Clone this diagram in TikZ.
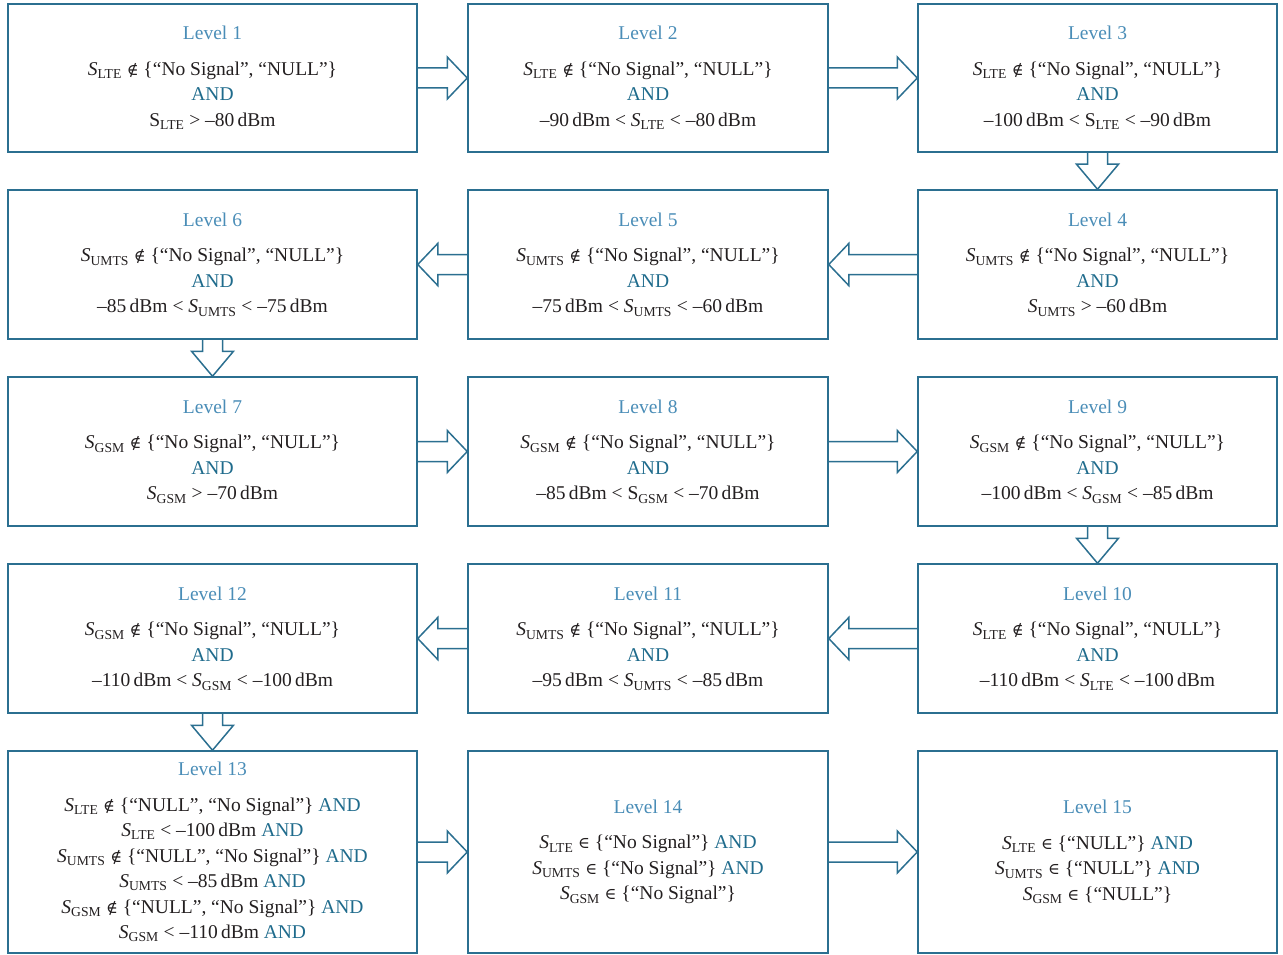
\documentclass[tikz,border=0pt]{standalone}
\usepackage{fontspec}
\setmainfont{Liberation Serif}
\newfontfamily\symfont{DejaVu Serif}
\usepackage{tikz}
\usetikzlibrary{calc}

\definecolor{boxblue}{HTML}{2B6F90}
\definecolor{titleblue}{HTML}{4A8DB7}
\definecolor{andblue}{HTML}{1F6B8C}
\definecolor{inkgray}{HTML}{231F20}

\newcommand{\sig}[1]{\textit{S}\textsubscript{#1}}   % signal strength, italic S
\newcommand{\sigup}[1]{S\textsubscript{#1}}          % signal strength, upright S
\newcommand{\notmember}{{\symfont\fontsize{16}{16}\selectfont ∉}}
\newcommand{\member}{{\symfont\fontsize{16}{16}\selectfont ∈}}
\newcommand{\andword}{\textcolor{andblue}{AND}}
\newcommand{\lvl}[1]{\textcolor{titleblue}{Level #1}\\[10pt]}
\newcommand{\valid}[1]{\sig{#1} \notmember\ \{“No Signal”, “NULL”\}\\ \andword\\}

% block arrows between two level boxes
\newcommand{\flowright}[2]{\draw[flow] let \p1=(#1.east), \p2=(#2.west) in
  (\x1,\y1+10pt) -- (\x2-20pt,\y1+10pt) -- (\x2-20pt,\y1+21pt) -- (\x2,\y1)
  -- (\x2-20pt,\y1-21pt) -- (\x2-20pt,\y1-10pt) -- (\x1,\y1-10pt);}
\newcommand{\flowleft}[2]{\draw[flow] let \p1=(#1.west), \p2=(#2.east) in
  (\x1,\y1+10pt) -- (\x2+20pt,\y1+10pt) -- (\x2+20pt,\y1+21pt) -- (\x2,\y1)
  -- (\x2+20pt,\y1-21pt) -- (\x2+20pt,\y1-10pt) -- (\x1,\y1-10pt);}
\newcommand{\flowdown}[2]{\draw[flow] let \p1=(#1.south), \p2=(#2.north) in
  (\x1-10pt,\y1) -- (\x1-10pt,\y2+25pt) -- (\x1-21pt,\y2+25pt) -- (\x1,\y2)
  -- (\x1+21pt,\y2+25pt) -- (\x1+10pt,\y2+25pt) -- (\x1+10pt,\y1);}

\begin{document}
\begin{tikzpicture}[x=1pt, y=-1pt,
    levelbox/.style={draw=boxblue, line width=1.5pt, inner sep=0pt, align=center,
      text=inkgray, minimum height=149pt, font=\fontsize{19.5}{25.5}\selectfont},
    flow/.style={draw=boxblue, line width=1.5pt, line join=miter}]
  \useasboundingbox (0,0) rectangle (1283,955); % page frame

  % Columns: left 8-417, middle 468-828, right 918-1277
  \node[levelbox, minimum width=409pt, minimum height=148pt] (l1) at (212.5,78)
    {\lvl{1}\valid{LTE}\sigup{LTE} > --80\,dBm};
  \node[levelbox, minimum width=360pt, minimum height=148pt] (l2) at (648,78)
    {\lvl{2}\valid{LTE}--90\,dBm < \sig{LTE} < --80\,dBm};
  \node[levelbox, minimum width=359pt, minimum height=148pt] (l3) at (1097.5,78)
    {\lvl{3}\valid{LTE}--100\,dBm < \sigup{LTE} < --90\,dBm};

  \node[levelbox, minimum width=359pt] (l4) at (1097.5,264.5)
    {\lvl{4}\valid{UMTS}\sig{UMTS} > --60\,dBm};
  \node[levelbox, minimum width=360pt] (l5) at (648,264.5)
    {\lvl{5}\valid{UMTS}--75\,dBm < \sig{UMTS} < --60\,dBm};
  \node[levelbox, minimum width=409pt] (l6) at (212.5,264.5)
    {\lvl{6}\valid{UMTS}--85\,dBm < \sig{UMTS} < --75\,dBm};

  \node[levelbox, minimum width=409pt] (l7) at (212.5,451.5)
    {\lvl{7}\valid{GSM}\sig{GSM} > --70\,dBm};
  \node[levelbox, minimum width=360pt] (l8) at (648,451.5)
    {\lvl{8}\valid{GSM}--85\,dBm < \sigup{GSM} < --70\,dBm};
  \node[levelbox, minimum width=359pt] (l9) at (1097.5,451.5)
    {\lvl{9}\valid{GSM}--100\,dBm < \sig{GSM} < --85\,dBm};

  \node[levelbox, minimum width=359pt] (l10) at (1097.5,638.5)
    {\lvl{10}\valid{LTE}--110\,dBm < \sig{LTE} < --100\,dBm};
  \node[levelbox, minimum width=360pt] (l11) at (648,638.5)
    {\lvl{11}\valid{UMTS}--95\,dBm < \sig{UMTS} < --85\,dBm};
  \node[levelbox, minimum width=409pt] (l12) at (212.5,638.5)
    {\lvl{12}\valid{GSM}--110\,dBm < \sig{GSM} < --100\,dBm};

  % last row is taller
  \node[levelbox, minimum width=409pt, minimum height=202pt] (l13) at (212.5,852)
    {\lvl{13}\sig{LTE} \notmember\ \{“NULL”, “No Signal”\} \andword\\
     \sig{LTE} < --100\,dBm \andword\\
     \sig{UMTS} \notmember\ \{“NULL”, “No Signal”\} \andword\\
     \sig{UMTS} < --85\,dBm \andword\\
     \sig{GSM} \notmember\ \{“NULL”, “No Signal”\} \andword\\
     \sig{GSM} < --110\,dBm \andword};
  \node[levelbox, minimum width=360pt, minimum height=202pt] (l14) at (648,852)
    {\lvl{14}\sig{LTE} \member\ \{“No Signal”\} \andword\\
     \sig{UMTS} \member\ \{“No Signal”\} \andword\\
     \sig{GSM} \member\ \{“No Signal”\}};
  \node[levelbox, minimum width=359pt, minimum height=202pt] (l15) at (1097.5,852)
    {\lvl{15}\sig{LTE} \member\ \{“NULL”\} \andword\\
     \sig{UMTS} \member\ \{“NULL”\} \andword\\
     \sig{GSM} \member\ \{“NULL”\}};

  % Snake order through the levels
  \flowright{l1}{l2} \flowright{l2}{l3} \flowdown{l3}{l4}
  \flowleft{l4}{l5} \flowleft{l5}{l6} \flowdown{l6}{l7}
  \flowright{l7}{l8} \flowright{l8}{l9} \flowdown{l9}{l10}
  \flowleft{l10}{l11} \flowleft{l11}{l12} \flowdown{l12}{l13}
  \flowright{l13}{l14} \flowright{l14}{l15}
\end{tikzpicture}
\end{document}
